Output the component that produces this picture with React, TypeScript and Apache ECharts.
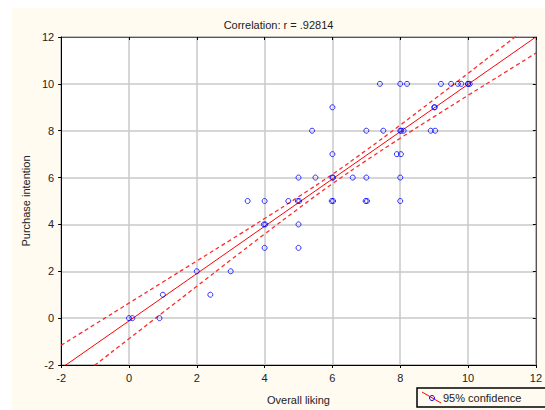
import React, { useEffect, useRef } from "react";
import * as echarts from "echarts";

const titleText = "Correlation: r = .92814";
const xName = "Overall liking";
const yName = "Purchase intention";
const legendText = "95% confidence";

// observed points [overall liking, purchase intention]
const pointsX = [
  7.4, 8.0, 8.2, 9.2, 9.5, 9.7, 9.8, 10.0, 10.05, 10.0,
  6.0, 9.0, 9.02,
  5.4, 7.0, 7.5, 8.0, 8.03, 8.1, 8.9, 9.03,
  6.0, 7.9, 8.02,
  5.0, 5.5, 6.0, 6.02, 6.6, 7.0, 8.0,
  3.5, 4.0, 4.7, 4.98, 5.02, 5.98, 6.02, 6.98, 7.02, 8.0,
  3.98, 4.02, 5.0,
  4.0, 5.0,
  2.0, 3.0,
  1.0, 2.4,
  0.0, 0.1, 0.9,
];
const pointsY = [
  10, 10, 10, 10, 10, 10, 10, 10, 10, 10,
  9, 9, 9,
  8, 8, 8, 8, 8, 8, 8, 8,
  7, 7, 7,
  6, 6, 6, 6, 6, 6, 6,
  5, 5, 5, 5, 5, 5, 5, 5, 5, 5,
  4, 4, 4,
  3, 3,
  2, 2,
  1, 1,
  0, 0, 0,
];

// regression line endpoints
const fitX = [-2, 12];
const fitY = [-2.14, 12.0];

// 95% confidence band
const bandX = [-2, -1, 0, 1, 2, 3, 4, 5, 6, 7, 8, 9, 10, 11, 12];
const bandUpper = [-1.16, -0.26, 0.64, 1.54, 2.44, 3.34, 4.25, 5.18, 6.14, 7.17, 8.24, 9.34, 10.45, 11.57, 12.69];
const bandLower = [-3.12, -2.0, -0.88, 0.24, 1.36, 2.48, 3.59, 4.68, 5.74, 6.73, 7.68, 8.6, 9.51, 10.41, 11.31];

const axisMin = -2;
const axisMax = 12;
const axisStep = 2;

const FONT = "Liberation Sans, Arial, sans-serif";

export default function App() {
  const ref = useRef<HTMLDivElement>(null);
  useEffect(() => {
    document.body.style.margin = "0";
    document.body.style.overflow = "hidden";
    if (!ref.current) return;
    const chart = echarts.init(ref.current, null, { renderer: "svg" });
    const zip = (xs: number[], ys: number[]) => xs.map((x, i) => [x, ys[i]]);
    const baseAxis = {
      type: "value",
      min: axisMin,
      max: axisMax,
      interval: axisStep,
    };
    chart.setOption({
      animation: false,
      backgroundColor: "#fffbf0",
      textStyle: { fontFamily: FONT },
      title: {
        text: titleText,
        left: "center",
        top: 11,
        padding: 0,
        textStyle: { fontFamily: FONT, fontSize: 11, fontWeight: "normal", color: "#222" },
      },
      grid: {
        left: 47,
        right: 6,
        top: 29,
        bottom: 44,
        show: true,
        backgroundColor: "#ffffff",
        borderColor: "#555",
        borderWidth: 1,
      },
      xAxis: [
        {
          ...baseAxis,
          position: "bottom",
          name: xName,
          nameLocation: "middle",
          nameGap: 29,
          nameTextStyle: { fontFamily: FONT, fontSize: 11, color: "#222" },
          axisLine: { show: true, onZero: false, lineStyle: { color: "#000", width: 1 } },
          axisTick: { show: true, length: 3, lineStyle: { color: "#000" } },
          axisLabel: { fontFamily: FONT, fontSize: 11, color: "#222", margin: 7 },
          splitLine: { show: true, lineStyle: { color: "#c8c8c8", width: 1.5 } },
        },
        {
          ...baseAxis,
          position: "top",
          axisLine: { show: true, onZero: false, lineStyle: { color: "#555", width: 1 } },
          axisTick: { show: true, inside: true, length: 3, lineStyle: { color: "#000" } },
          axisLabel: { show: false },
          splitLine: { show: false },
        },
      ],
      yAxis: [
        {
          ...baseAxis,
          position: "left",
          name: yName,
          nameLocation: "middle",
          nameGap: 29,
          nameTextStyle: { fontFamily: FONT, fontSize: 11, color: "#222" },
          axisLine: { show: true, onZero: false, lineStyle: { color: "#000", width: 1 } },
          axisTick: { show: true, length: 3, lineStyle: { color: "#000" } },
          axisLabel: { fontFamily: FONT, fontSize: 11, color: "#222", margin: 7 },
          splitLine: { show: true, lineStyle: { color: "#c8c8c8", width: 1.5 } },
        },
        {
          ...baseAxis,
          position: "right",
          axisLine: { show: true, onZero: false, lineStyle: { color: "#555", width: 1 } },
          axisTick: { show: true, inside: true, length: 3, lineStyle: { color: "#000" } },
          axisLabel: { show: false },
          splitLine: { show: false },
        },
      ],
      series: [
        {
          type: "line",
          name: "upper",
          data: zip(bandX, bandUpper),
          smooth: true,
          showSymbol: false,
          symbol: "none",
          clip: true,
          lineStyle: { color: "#ff2a2a", width: 1.3, type: [4, 3] },
          z: 2,
        },
        {
          type: "line",
          name: "lower",
          data: zip(bandX, bandLower),
          smooth: true,
          showSymbol: false,
          symbol: "none",
          clip: true,
          lineStyle: { color: "#ff2a2a", width: 1.3, type: [4, 3] },
          z: 2,
        },
        {
          type: "line",
          name: "fit",
          data: zip(fitX, fitY),
          showSymbol: false,
          symbol: "none",
          clip: true,
          lineStyle: { color: "#ff0000", width: 1 },
          z: 3,
        },
        {
          type: "scatter",
          name: legendText,
          data: zip(pointsX, pointsY),
          symbol: "circle",
          symbolSize: 5,
          itemStyle: { color: "rgba(255,255,255,0)", borderColor: "#0000ff", borderWidth: 1 },
          z: 4,
        },
      ],
      graphic: [
        {
          type: "rect",
          shape: { x: 405, y: 380, width: 135, height: 19 },
          style: { fill: "#fffbf0", stroke: "#000", lineWidth: 1.5 },
        },
        {
          type: "line",
          shape: { x1: 410, y1: 384, x2: 429, y2: 395 },
          style: { stroke: "#ff0000", lineWidth: 1 },
        },
        {
          type: "circle",
          shape: { cx: 420, cy: 390, r: 2.5 },
          style: { fill: "rgba(255,255,255,0)", stroke: "#0000ff", lineWidth: 1 },
        },
        {
          type: "text",
          x: 431,
          y: 390,
          style: {
            text: legendText,
            fontFamily: FONT,
            fontSize: 11,
            fill: "#222",
            verticalAlign: "middle",
            align: "left",
          },
        },
      ],
    });
    return () => chart.dispose();
  }, []);
  return (
    <div
      ref={ref}
      style={{ position: "absolute", left: 12, top: 8, width: 533, height: 402 }}
    />
  );
}
